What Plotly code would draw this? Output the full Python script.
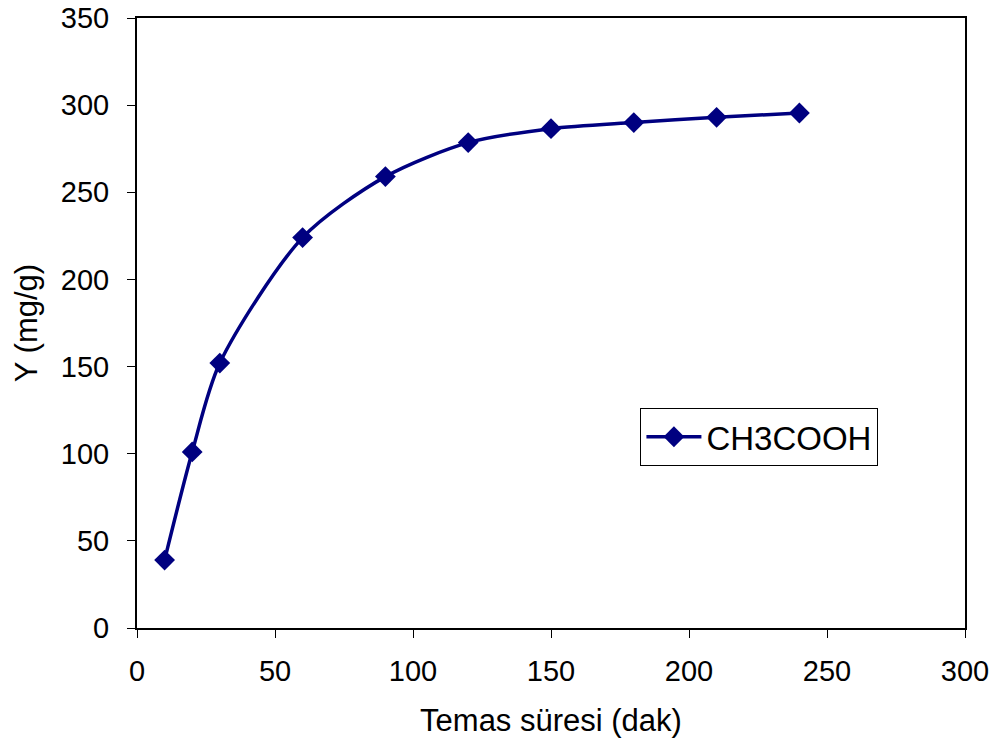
import plotly.graph_objects as go

time_min = [10, 20, 30, 60, 90, 120, 150, 180, 210, 240]
y_mg_g = [39, 101, 152, 224, 259, 278.5, 286.5, 290, 293, 295.5]
series_name = "CH3COOH"
x_ticks = [0, 50, 100, 150, 200, 250, 300]
y_ticks = [0, 50, 100, 150, 200, 250, 300, 350]

FAM = "Liberation Sans, Arial, sans-serif"

fig = go.Figure()
fig.add_trace(go.Scatter(
    x=time_min, y=y_mg_g, name=series_name, mode="lines+markers",
    line=dict(color="#000080", width=3.5, shape="spline", smoothing=0.8),
    marker=dict(symbol="diamond", size=16, color="#000080"),
))

fig.update_layout(
    width=999, height=749,
    margin=dict(l=137, r=34, t=18, b=121),
    paper_bgcolor="white", plot_bgcolor="white",
    font=dict(family=FAM, size=24, color="black"),
    showlegend=True,
    legend=dict(x=0.608, y=0.361, xanchor="left", yanchor="top",
                bordercolor="black", borderwidth=1, bgcolor="white",
                font=dict(family=FAM, size=33, color="black"),
                itemwidth=55, tracegroupgap=0),
    xaxis=dict(range=[0, 300], tickvals=x_ticks, showgrid=False, zeroline=False,
               showline=True, linecolor="black", linewidth=2, mirror=True,
               ticks="outside", ticklen=8, tickcolor="black",
               tickfont=dict(family=FAM, size=29, color="black"),
               ticklabelstandoff=8,
               automargin=False,
               title=dict(text="Temas süresi (dak)", standoff=24,
                          font=dict(family=FAM, size=31, color="black"))),
    yaxis=dict(range=[0, 350], tickvals=y_ticks, showgrid=False, zeroline=False,
               showline=True, linecolor="black", linewidth=2, mirror=True,
               ticks="outside", ticklen=8, tickcolor="black",
               tickfont=dict(family=FAM, size=29, color="black"),
               ticklabelstandoff=12,
               automargin=False,
               title=dict(text="Y (mg/g)", standoff=14,
                          font=dict(family=FAM, size=31, color="black"))),
)
fig.write_html("out.html")
